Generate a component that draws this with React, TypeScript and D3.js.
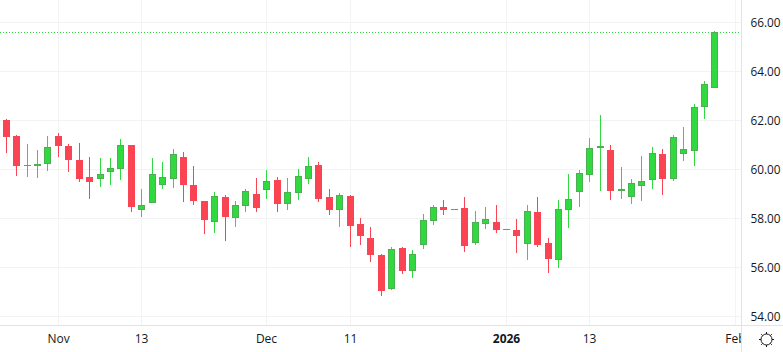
import React from "react";
import * as d3 from "d3";

const opens = [62.01,61.36,60.14,60.14,60.22,61.36,60.95,60.38,59.69,59.61,59.89,60.01,60.99,58.34,58.63,59.36,59.61,60.50,59.36,58.71,57.85,58.87,58.01,58.50,58.99,
  59.16,59.56,58.59,59.03,59.61,60.18,58.87,58.34,58.91,57.77,57.20,56.50,55.12,56.79,55.85,56.91,57.89,58.46,58.34,58.42,56.99,57.77,57.85,57.54,
  57.54,56.97,58.27,57.01,56.31,58.35,59.09,59.78,60.88,60.80,59.13,58.88,59.33,59.58,60.64,59.62,60.64,60.76,62.56,63.33];
const highs = [62.05,61.40,61.03,60.79,61.36,61.48,61.03,61.07,60.50,60.46,60.46,61.20,60.99,59.16,60.46,60.30,60.83,60.71,60.10,58.71,59.07,58.95,58.71,59.16,59.61,
  59.97,59.65,59.61,60.01,60.50,60.30,59.16,59.03,58.95,58.01,57.61,56.54,56.83,56.83,56.71,58.14,58.54,58.75,58.37,58.87,58.30,58.46,58.54,57.56,
  57.95,58.52,58.84,57.17,58.72,59.78,59.95,61.25,62.19,60.97,60.07,59.58,60.52,60.88,60.80,61.37,61.70,62.64,63.58,65.62];
const lows = [60.63,59.73,59.65,59.61,59.93,60.50,59.89,59.48,58.79,59.28,59.36,59.56,58.26,58.05,58.63,59.16,59.24,58.63,58.54,57.36,57.40,57.07,57.61,58.26,58.26,
  58.79,58.26,58.34,58.75,59.40,58.63,58.10,57.61,56.83,56.91,56.22,54.83,55.07,55.69,55.56,56.75,57.69,58.10,58.34,56.59,56.91,57.56,57.40,57.54,
  56.56,56.27,56.80,55.74,55.95,57.58,58.44,59.46,59.09,58.72,58.76,58.56,58.68,59.17,58.93,59.50,60.31,60.11,62.03,63.29];
const closes = [61.32,60.14,60.18,60.24,60.90,60.95,60.38,59.61,59.48,59.81,60.05,60.99,58.46,58.54,59.81,59.69,60.63,59.36,58.71,57.93,58.91,58.05,58.54,59.12,58.42,
  59.52,58.59,59.07,59.73,60.14,58.79,58.34,58.95,57.69,57.28,56.50,55.03,56.75,55.85,56.54,57.93,58.46,58.34,58.37,56.87,57.85,57.97,57.52,57.56,
  57.29,58.31,56.93,56.35,58.39,58.80,59.86,60.88,60.97,59.13,59.21,59.46,59.54,60.68,59.62,61.33,60.84,62.56,63.50,65.62];

const priceTicks = [54, 56, 58, 60, 62, 64, 66];
const timeTickIndex = [5, 13, 25, 33, 48, 56, 70];
const timeTickLabels = ["Nov", "13", "Dec", "11", "2026", "13", "Feb"];
const boldTick = "2026";
const lastPrice = 65.62;

const W = 783, H = 352, PANE_W = 741, PANE_H = 325;
const UP = "#2fd93f", UP_BORDER = "#4caf50", DOWN = "#fb4453";
const GRID = "#f2f3f5", AXIS = "#e0e3eb", TEXT = "#131722";
const FONT = "'Open Sans', Roboto, sans-serif";

const x = d3.scaleLinear().domain([0, 68]).range([5.8, 714.36]);
const y = d3.scaleLinear().domain([54, 66]).range([316.4, 22.4]);
const px = (i: number) => Math.round(x(i));
const py = (v: number) => Math.floor(y(v));

export default function App() {
  return (
    <svg width={W} height={H} style={{ position: "absolute", left: 0, top: 0, background: "#fff" }} shapeRendering="crispEdges">
      <defs>
        <clipPath id="pane"><rect x={0} y={0} width={PANE_W} height={PANE_H} /></clipPath>
        <clipPath id="timeAxis"><rect x={0} y={PANE_H} width={PANE_W} height={H - PANE_H} /></clipPath>
      </defs>
      <g clipPath="url(#pane)">
        {priceTicks.map((t) => <rect key={t} x={0} y={py(t)} width={PANE_W} height={1} fill={GRID} />)}
        {timeTickIndex.map((t) => <rect key={t} x={px(t)} y={0} width={1} height={PANE_H} fill={GRID} />)}
        <line x1={0} x2={PANE_W} y1={Math.round(y(lastPrice)) + 0.5} y2={Math.round(y(lastPrice)) + 0.5} stroke="#22d633" strokeWidth={1} strokeDasharray="1 2" shapeRendering="auto" />
        {opens.map((o, i) => {
          const c = closes[i];
          const up = c >= o;
          const cx = px(i);
          const yh = py(highs[i]), yl = py(lows[i]);
          const top = Math.round(y(Math.max(o, c))), bot = Math.round(y(Math.min(o, c)));
          const fill = up ? UP : DOWN;
          const h = Math.max(bot - top, 1);
          return (
            <g key={i}>
              <rect x={cx} y={yh} width={1} height={Math.max(yl - yh, 1)} fill={fill} />
              {!up
                ? <rect x={cx - 3} y={top} width={7} height={h} fill={fill} />
                : h <= 2
                  ? <rect x={cx - 3} y={top} width={7} height={h} fill={UP_BORDER} />
                  : <rect x={cx - 2.5} y={top + 0.5} width={6} height={h - 1} fill={fill} stroke={UP_BORDER} strokeWidth={1} />}
            </g>
          );
        })}
      </g>
      <rect x={0} y={PANE_H} width={W} height={1} fill={AXIS} />
      <rect x={PANE_W} y={0} width={1} height={H} fill={AXIS} />
      <g clipPath="url(#timeAxis)" shapeRendering="auto">
        {timeTickIndex.map((t, k) => (
          <text key={t} x={px(t) + 0.5} y={343} textAnchor="middle" fontFamily={FONT} fontSize={12}
            fontWeight={timeTickLabels[k] === boldTick ? 700 : 400} fill={TEXT}>{timeTickLabels[k]}</text>
        ))}
      </g>
      <g shapeRendering="auto">
        {priceTicks.map((t) => (
          <text key={t} x={780.5} y={py(t) + 4.5} textAnchor="end" fontFamily={FONT} fontSize={11.8} fill={TEXT}>{t.toFixed(2)}</text>
        ))}
        <g transform="translate(766.5,339.5)" fill="none" stroke={TEXT} strokeWidth={1}>
          <circle r={5.5} />
          {d3.range(8).map((k) => {
            const a = (k * Math.PI) / 4;
            return <line key={k} x1={5.5 * Math.cos(a)} y1={5.5 * Math.sin(a)} x2={7.5 * Math.cos(a)} y2={7.5 * Math.sin(a)} />;
          })}
        </g>
      </g>
    </svg>
  );
}
